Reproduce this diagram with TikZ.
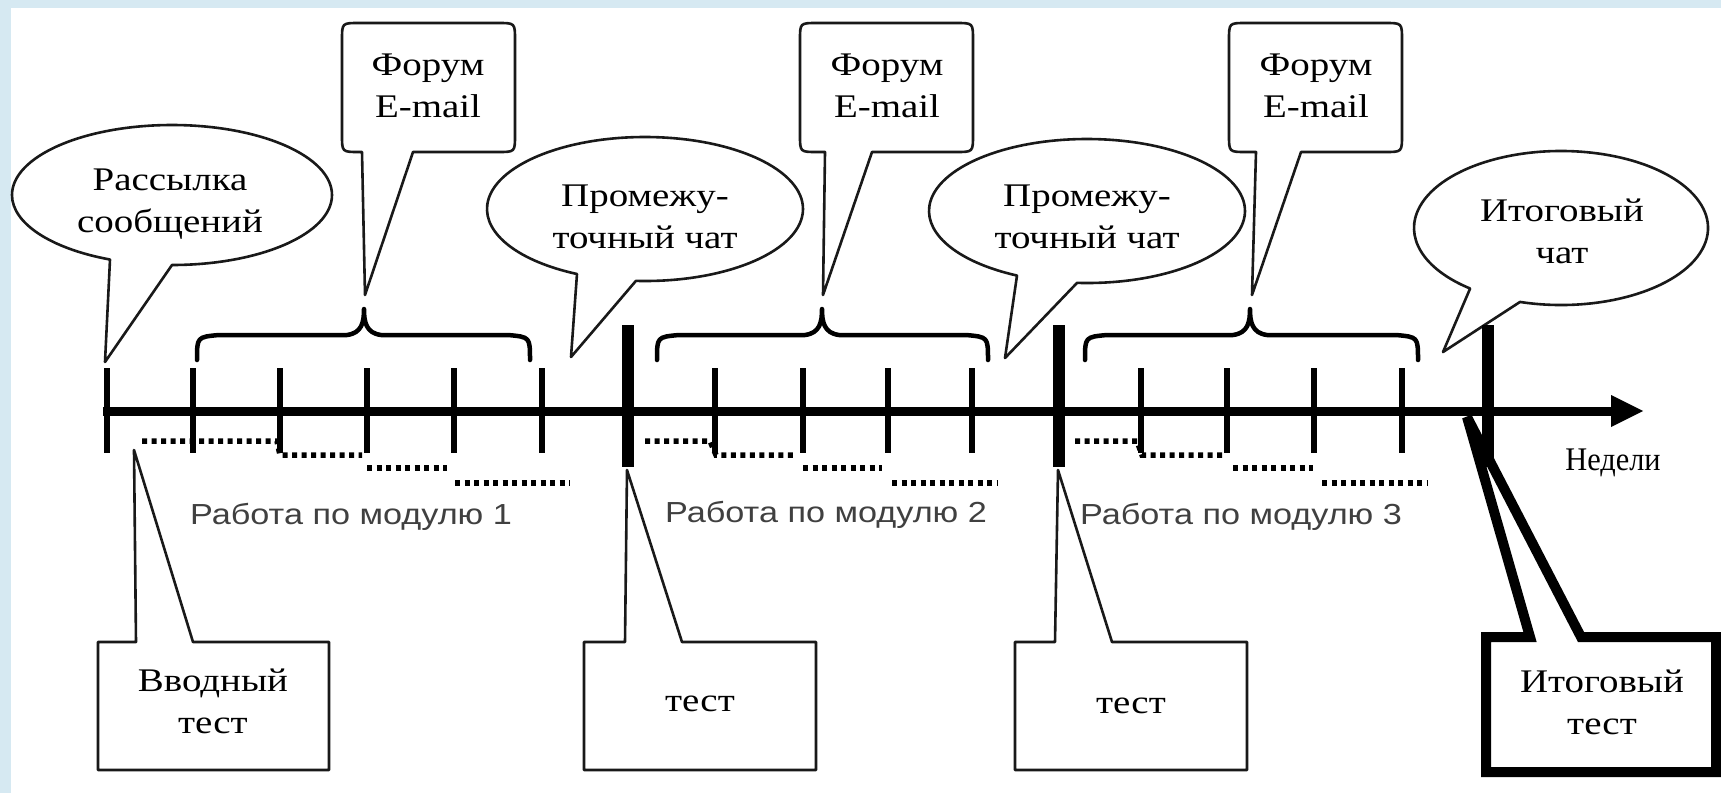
\documentclass[tikz,border=0pt]{standalone}
\usepackage{fontspec}
\setmainfont{Liberation Serif}
\newfontfamily\sansf{Liberation Sans}
\usepackage{graphicx}
\definecolor{bgblue}{RGB}{214,233,242}
\definecolor{bggreen}{RGB}{230,243,222}
\newcommand{\hs}[1]{\scalebox{1.18}[1]{#1}}
\newcommand{\two}[2]{\hs{\begin{tabular}{@{}c@{}}#1\\#2\end{tabular}}}
\begin{document}
\begin{tikzpicture}[x=1pt,y=-1pt,
  outl/.style={draw=black!90, line width=2.6pt, fill=white, line join=round},
  boldoutl/.style={draw=black, line width=10pt, fill=white, line join=miter, miter limit=2},
  stxt/.style={font=\fontsize{33}{42}\selectfont, text=black, align=center, inner sep=0pt},
  mtxt/.style={font=\sansf\fontsize{29}{34}\selectfont, text=black!75, inner sep=0pt},
  thintick/.style={line width=6pt},
  thicktick/.style={line width=12pt},
  brace/.style={line width=4.5pt, line cap=round, line join=round},
  dots/.style={line width=5.5pt, dash pattern=on 5pt off 4.5pt},
  axisline/.style={line width=9pt}
]
\useasboundingbox (0,0) rectangle (1721,793);
% background frame
\fill[bgblue] (0,0) rectangle (1721,793);
\shade[left color=bgblue, middle color=bggreen, right color=bgblue] (0,0) rectangle (1721,8);
\fill[white] (11,8) rectangle (1721,793);

% ---- ellipse callouts ----
\draw[outl] (172,195) ++(90:160 and 70) arc[start angle=90, end angle=-247.2, x radius=160, y radius=70] -- (105,362) -- cycle;
\draw[outl] (645,209) ++(93.3:158 and 72) arc[start angle=93.3, end angle=-244.5, x radius=158, y radius=72] -- (571,357) -- cycle;
\draw[outl] (1087,211) ++(93.6:158 and 72) arc[start angle=93.6, end angle=-243.7, x radius=158, y radius=72] -- (1005,358) -- cycle;
\draw[outl] (1561,228) ++(106.2:147 and 77) arc[start angle=106.2, end angle=-231.8, x radius=147, y radius=77] -- (1443,352) -- cycle;

% ---- rounded box callouts (Forum / E-mail) ----
\draw[outl] (365,295) -- (413,152) -- (498,152) .. controls (515,152) .. (515,135) -- (515,40) .. controls (515,23) .. (498,23) -- (359,23) .. controls (342,23) .. (342,40) -- (342,135) .. controls (342,152) .. (359,152) -- (362,152) -- cycle;
\draw[outl] (823,295) -- (872,152) -- (956,152) .. controls (973,152) .. (973,135) -- (973,40) .. controls (973,23) .. (956,23) -- (817,23) .. controls (800,23) .. (800,40) -- (800,135) .. controls (800,152) .. (817,152) -- (825,152) -- cycle;
\draw[outl] (1252,295) -- (1301,152) -- (1385,152) .. controls (1402,152) .. (1402,135) -- (1402,40) .. controls (1402,23) .. (1385,23) -- (1246,23) .. controls (1229,23) .. (1229,40) -- (1229,135) .. controls (1229,152) .. (1246,152) -- (1256,152) -- cycle;

% ---- rectangular callouts (tests) ----
\draw[outl] (134,450) -- (193,642) -- (329,642) -- (329,770) -- (98,770) -- (98,642) -- (136,642) -- cycle;
\draw[outl] (627,470) -- (682,642) -- (816,642) -- (816,770) -- (584,770) -- (584,642) -- (625,642) -- cycle;
\draw[outl] (1058,470) -- (1112,642) -- (1247,642) -- (1247,770) -- (1015,770) -- (1015,642) -- (1055,642) -- cycle;
\draw[boldoutl] (1467,417) -- (1581,637) -- (1716,637) -- (1716,772) -- (1486,772) -- (1486,637) -- (1530,637) -- cycle;

% ---- time axis ----
\coordinate (axS) at (103,411);
\coordinate (axE) at (1615,411);
\coordinate (axTip) at (1643,411);
\draw[axisline] (axS) -- (axE);
\fill (axTip) -- (1611,395) -- (1611,427) -- cycle;
\foreach \x in {106.7,193,280,367,454,542,715,803,888,972,1141,1227,1314,1402}
  \draw[thintick] (\x,368) -- (\x,453);
\foreach \x in {628,1059,1488}
  \draw[thicktick] (\x,325) -- (\x,467);

% ---- braces ----
\foreach \L/\P/\R in {197/364/530, 657/822/988, 1085/1250/1418}
  \draw[brace] (\L,360) .. controls (\L,337) .. (\L+22,335) -- (\P-17,335) .. controls (\P-2,333) and (\P,322) .. (\P,309) .. controls (\P,322) and (\P+2,333) .. (\P+17,335) -- (\R-22,335) .. controls (\R,337) .. (\R,360);

% ---- dotted work steps ----
\draw[dots] (142,441) -- (277,441) -- (280,455) -- (362,455);
\draw[dots] (367,468) -- (447,468);
\draw[dots] (455,483) -- (570,483);
\draw[dots] (645,441) -- (710,441) -- (716,455) -- (797,455);
\draw[dots] (803,468) -- (882,468);
\draw[dots] (892,483) -- (998,483);
\draw[dots] (1075,441) -- (1137,441) -- (1142,455) -- (1223,455);
\draw[dots] (1233,468) -- (1313,468);
\draw[dots] (1322,483) -- (1428,483);

% ---- texts ----
\node[stxt] (rass) at (170,203) {\two{Рассылка}{сообщений}};
\node[stxt] (forum1) at (428,88) {\two{Форум}{E-mail}};
\node[stxt] (forum2) at (887,88) {\two{Форум}{E-mail}};
\node[stxt] (forum3) at (1316,88) {\two{Форум}{E-mail}};
\node[stxt] (prom1) at (645,219) {\two{Промежу-}{точный чат}};
\node[stxt] (prom2) at (1087,219) {\two{Промежу-}{точный чат}};
\node[stxt] (itchat) at (1562,234) {\two{Итоговый}{чат}};
\node[stxt] (vvod) at (213,704) {\two{Вводный}{тест}};
\node[stxt] (test2) at (700,704) {\hs{тест}};
\node[stxt] (test3) at (1131,706) {\hs{тест}};
\node[stxt] (ittest) at (1602,705) {\two{Итоговый}{тест}};
\node[stxt] (weeks) at (1613,463) {\scalebox{0.92}[1]{Недели}};
\node[mtxt] (mod1) at (351,517) {\hs{Работа по модулю 1}};
\node[mtxt] (mod2) at (826,515) {\hs{Работа по модулю 2}};
\node[mtxt] (mod3) at (1241,517) {\hs{Работа по модулю 3}};
\end{tikzpicture}
\end{document}
